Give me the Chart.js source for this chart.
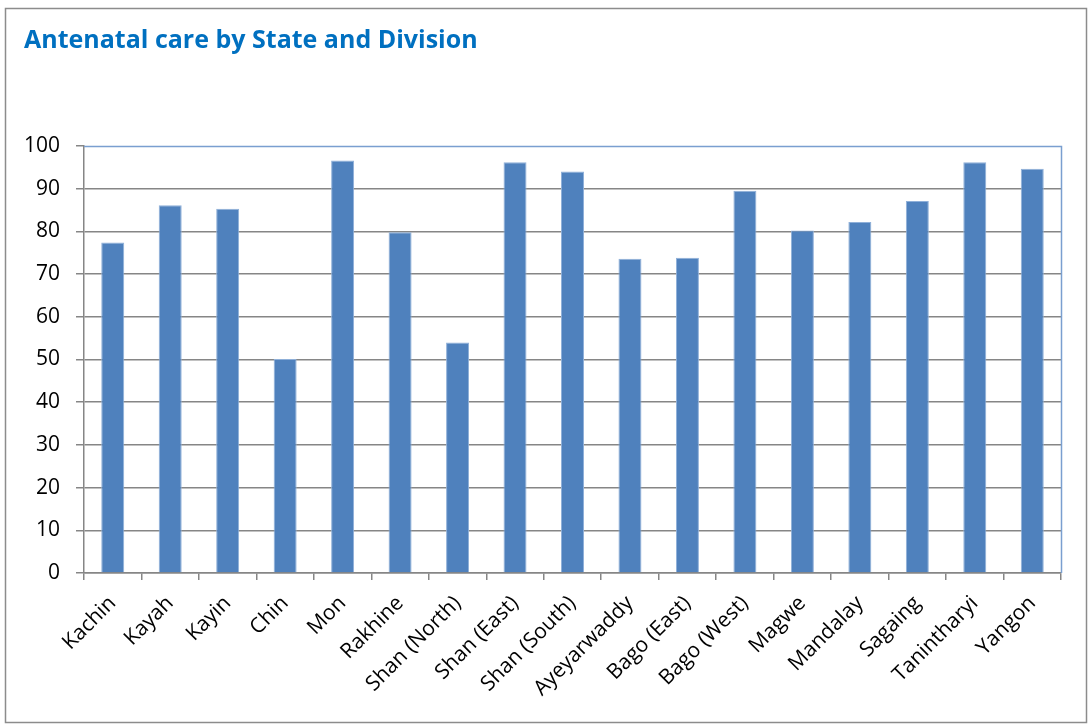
<!DOCTYPE html>
<html><head><meta charset="utf-8">
<script src="https://cdn.jsdelivr.net/npm/chart.js@4"></script>
<style>html,body{margin:0;padding:0;background:#fff}#wrap{position:relative;width:1089px;height:725px}</style>
</head><body><div id="wrap"><canvas id="c" width="1089" height="725"></canvas></div>
<script>
const categories = ["Kachin","Kayah","Kayin","Chin","Mon","Rakhine","Shan (North)","Shan (East)","Shan (South)","Ayeyarwaddy","Bago (East)","Bago (West)","Magwe","Mandalay","Sagaing","Tanintharyi","Yangon"];
const ancValues = [77.4,86.1,85.3,50.1,96.6,79.8,54.0,96.2,94.0,73.6,73.8,89.5,80.2,82.2,87.1,96.2,94.7];
const yMin = 0, yMax = 100, yStep = 10;
const titleText = "Antenatal care by State and Division";

const PLOT_LEFT = 84, PLOT_RIGHT = 1061, PLOT_TOP = 146, PLOT_BOTTOM = 573;

const frame = {
  id: 'frame',
  beforeDraw(chart) {
    const c = chart.ctx;
    c.save();
    c.fillStyle = '#fff';
    c.fillRect(0,0,chart.width,chart.height);
    c.strokeStyle = '#8c8c8c';
    c.lineWidth = 1.5;
    c.strokeRect(5.5, 8.5, 1081, 714);
    c.restore();
  },
  afterDraw(chart) {
    const a = chart.chartArea, c = chart.ctx;
    c.save();
    c.strokeStyle = '#7a9fd0';
    c.lineWidth = 1.5;
    c.beginPath();
    c.moveTo(a.left, a.top + 0.5);
    c.lineTo(a.right + 0.5, a.top + 0.5);
    c.lineTo(a.right + 0.5, a.bottom);
    c.stroke();
    c.restore();
  }
};

new Chart(document.getElementById('c'), {
  type: 'bar',
  data: {
    labels: categories,
    datasets: [{
      data: ancValues,
      backgroundColor: '#4F81BD',
      borderColor: '#8fb0d9',
      borderWidth: 1,
      categoryPercentage: 1.0,
      barPercentage: 0.4
    }]
  },
  plugins: [frame],
  options: {
    responsive: false,
    devicePixelRatio: 1,
    animation: false,
    layout: { padding: { left: 24, right: 1089 - PLOT_RIGHT, top: 0, bottom: 0 } },
    plugins: {
      legend: { display: false },
      tooltip: { enabled: false },
      title: {
        display: true,
        text: titleText,
        align: 'start',
        color: '#0070C0',
        font: { family: 'Open Sans', size: 25, weight: 'bold' },
        padding: { top: 26, bottom: PLOT_TOP - 26 - 25 * 1.2 }
      }
    },
    scales: {
      x: {
        afterFit(s) { s.height = 725 - PLOT_BOTTOM; },
        grid: { offset: true, drawOnChartArea: false, drawTicks: true, tickLength: 7, color: '#868686', lineWidth: 1.5 },
        border: { display: true, color: '#868686', width: 1.5 },
        ticks: { minRotation: 45, maxRotation: 45, autoSkip: false, padding: 11, color: '#000', font: { family: 'Open Sans', size: 21 } }
      },
      y: {
        min: yMin, max: yMax,
        afterFit(s) { s.width = PLOT_LEFT - 24; },
        grid: {
          drawTicks: true, tickLength: 8,
          color: (ctx) => ctx.tick && ctx.tick.value === yMax ? 'rgba(0,0,0,0)' : '#868686',
          tickColor: '#868686',
          lineWidth: 1.5
        },
        border: { display: true, color: '#868686', width: 1.5 },
        ticks: { stepSize: yStep, padding: 16, color: '#000', font: { family: 'Open Sans', size: 21 } }
      }
    }
  }
});
</script></body></html>
